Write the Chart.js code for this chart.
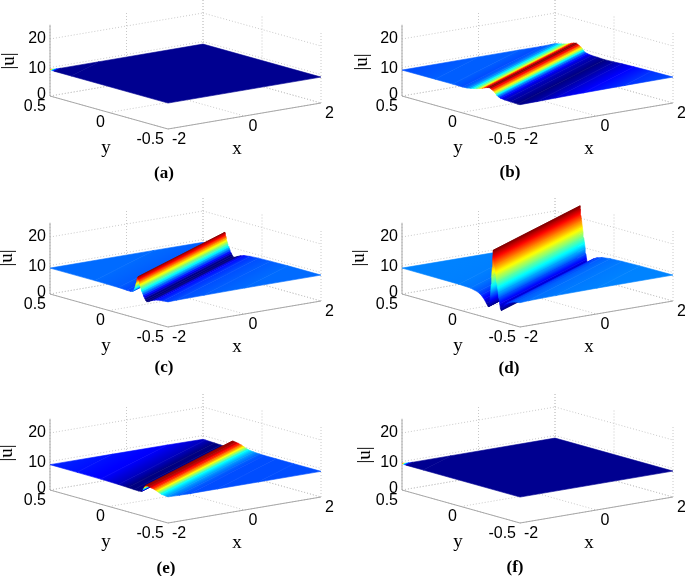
<!DOCTYPE html>
<html>
<head>
<meta charset="utf-8">
<title>|u| surfaces</title>
<script src="https://cdn.jsdelivr.net/npm/chart.js@4"></script>
<style>
  body { margin: 0; background: #fff; }
  canvas { position: absolute; }
</style>
</head>
<body>
<script>
// tick labels
const xTicks = [-2, 0, 2];
const yTicks = [-0.5, 0, 0.5];
const zTicks = [0, 10, 20];

// cross sections: position across the ridge (y - 0.14 x) and |u|
const posA = [-0.78, 0.6, 0.74, 0.755, 0.765, 0.775, 0.78];
const valA = [9.1, 9.1, 9.1, 9.15, 9.2, 9.3, 9.35];

const posB = [-0.78, -0.6, -0.45, -0.35, -0.28, -0.2, -0.14, -0.09, -0.055, -0.035, -0.022, -0.013, -0.003, 0.01, 0.025, 0.04, 0.06, 0.08, 0.1, 0.125, 0.15, 0.175, 0.2, 0.23, 0.27, 0.35, 0.5, 0.78];
const valB = [9.1, 9.02, 8.88, 8.75, 8.62, 8.5, 8.6, 8.7, 8.9, 9.2, 9.6, 10.1, 10.5, 10.85, 11.2, 11.5, 11.3, 11.0, 10.6, 10.2, 9.9, 9.65, 9.4, 9.2, 9.1, 9.15, 9.15, 9.1];

const posC = [-0.78, -0.5, -0.35, -0.25, -0.18, -0.13, -0.1, -0.075, -0.055, -0.04, -0.03, -0.022, -0.016, -0.01, -0.004, 0.002, 0.008, 0.013, 0.018, 0.022, 0.026, 0.03, 0.034, 0.04, 0.045, 0.05, 0.057, 0.065, 0.08, 0.1, 0.13, 0.2, 0.4, 0.78];
const valC = [9.1, 9.1, 9.0, 8.9, 8.7, 8.4, 8.0, 7.5, 7.0, 6.8, 7.2, 7.8, 8.3, 8.8, 9.4, 10, 10.6, 11.2, 12, 12.7, 13.5, 14.2, 14.7, 14.2, 13.3, 12.3, 11, 9.9, 9, 8.8, 8.85, 9, 9.1, 9.1];

const posD = [-0.78, -0.5, -0.35, -0.25, -0.18, -0.14, -0.11, -0.09, -0.075, -0.065, -0.06, -0.054, -0.048, -0.042, -0.036, -0.03, -0.024, -0.018, -0.012, -0.006, 0, 0.004, 0.007, 0.012, 0.016, 0.02, 0.024, 0.03, 0.036, 0.042, 0.05, 0.065, 0.085, 0.11, 0.14, 0.2, 0.3, 0.78];
const valD = [9.1, 9.05, 8.9, 8.7, 8.3, 7.8, 7.1, 6.3, 5.4, 4.4, 3.9, 4.6, 6.2, 8, 9.8, 11.6, 13.4, 15.2, 17, 19, 21, 23, 24.3, 21, 18, 15, 12, 8.5, 5.5, 4.2, 4, 5, 6.3, 7.4, 8.2, 8.8, 9, 9.1];

const posE = [-0.78, -0.55, -0.4, -0.3, -0.26, -0.21, -0.164, -0.145, -0.127, -0.105, -0.08, -0.06, -0.04, -0.03, -0.02, -0.012, -0.004, 0.005, 0.03, 0.07, 0.12, 0.2, 0.35, 0.55, 0.78];
const valE = [9.0, 9.0, 9.0, 9.0, 9.05, 9.2, 9.44, 9.75, 10.06, 10.4, 10.7, 10.85, 10.95, 10.95, 10.2, 9.4, 8.8, 8.45, 8.35, 8.4, 8.5, 8.65, 8.8, 8.85, 8.9];

const posF = [-0.78, 0.6, 0.74, 0.755, 0.765, 0.775, 0.78];
const valF = [9.1, 9.1, 9.1, 9.15, 9.2, 9.3, 9.35];

const panels = [
  { name: '(a)', pos: posA, val: valA, cmin: 9.095, cmax: 9.4, left: 0, top: 0, height: 198, labelX: 164, labelY: 174, uX: 9, uY: 61 },
  { name: '(b)', pos: posB, val: valB, cmin: 8.5, cmax: 11.5, left: 352, top: 0, height: 198, labelX: 158, labelY: 173, uX: 10, uY: 62 },
  { name: '(c)', pos: posC, val: valC, cmin: 7.4, cmax: 14.8, left: 0, top: 198, height: 196, labelX: 164, labelY: 170, uX: 7, uY: 60 },
  { name: '(d)', pos: posD, val: valD, cmin: 3.9, cmax: 24.3, left: 352, top: 198, height: 196, labelX: 157, labelY: 171, uX: 7, uY: 60 },
  { name: '(e)', pos: posE, val: valE, cmin: 8.5, cmax: 11, left: 0, top: 394, height: 182, labelX: 166, labelY: 175, uX: 7, uY: 59 },
  { name: '(f)', pos: posF, val: valF, cmin: 9.095, cmax: 9.4, left: 352, top: 394, height: 182, labelX: 163, labelY: 174, uX: 13, uY: 61 }
];

const slope = 0.14; // ridge runs along y = pos + slope * x

// fixed camera of the 3D box, in scale units
function projX(x, y) {
  return 50 + 38.25 * (x + 2) + 118 * (0.5 - y);
}
function projY(x, y, z) {
  return 96 - 6.5 * (x + 2) + 33 * (0.5 - y) - 2.85 * z;
}
function toPoint(p) {
  return { x: projX(p.x, p.y), y: projY(p.x, p.y, p.z) };
}

function jet(t) {
  t = Math.min(1, Math.max(0, t));
  const r = Math.min(1, Math.max(0, Math.min(4 * t - 1.5, 4.5 - 4 * t)));
  const g = Math.min(1, Math.max(0, Math.min(4 * t - 0.5, 3.5 - 4 * t)));
  const b = Math.min(1, Math.max(0, Math.min(4 * t + 0.5, 2.5 - 4 * t)));
  return 'rgb(' + Math.round(r * 255) + ',' + Math.round(g * 255) + ',' + Math.round(b * 255) + ')';
}

// cut a polygon with one side of the box
function clipSide(poly, key, limit, sign) {
  const out = [];
  for (let i = 0; i < poly.length; i++) {
    const a = poly[i];
    const b = poly[(i + 1) % poly.length];
    const da = sign * (a[key] - limit);
    const db = sign * (b[key] - limit);
    if (da >= 0) out.push(a);
    if (da * db < 0) {
      const f = da / (da - db);
      out.push({ x: a.x + f * (b.x - a.x), y: a.y + f * (b.y - a.y), z: a.z + f * (b.z - a.z) });
    }
  }
  return out;
}

function stripPolygon(p0, z0, p1, z1) {
  let poly = [
    { x: -3, y: p0 - 3 * slope, z: z0 },
    { x: 3, y: p0 + 3 * slope, z: z0 },
    { x: 3, y: p1 + 3 * slope, z: z1 },
    { x: -3, y: p1 - 3 * slope, z: z1 }
  ];
  poly = clipSide(poly, 'x', -2, 1);
  poly = clipSide(poly, 'x', 2, -1);
  poly = clipSide(poly, 'y', -0.5, 1);
  poly = clipSide(poly, 'y', 0.5, -1);
  return poly;
}

// colour runs across the strip like interpolated shading
function stripGradient(ctx, panel, i) {
  const a = toPoint({ x: 0, y: panel.pos[i], z: panel.val[i] });
  const b = toPoint({ x: 0, y: panel.pos[i + 1], z: panel.val[i + 1] });
  const s0 = toPoint({ x: -1, y: -slope, z: 0 });
  const s1 = toPoint({ x: 1, y: slope, z: 0 });
  const nx = s1.y - s0.y;
  const ny = s0.x - s1.x;
  const k = ((b.x - a.x) * nx + (b.y - a.y) * ny) / (nx * nx + ny * ny);
  const grad = ctx.createLinearGradient(a.x, a.y, a.x + k * nx, a.y + k * ny);
  for (let s = 0; s <= 4; s++) {
    const z = panel.val[i] + (panel.val[i + 1] - panel.val[i]) * s / 4;
    grad.addColorStop(s / 4, jet((z - panel.cmin) / (panel.cmax - panel.cmin)));
  }
  return grad;
}

function lineSet(a, b, dashed) {
  return {
    data: [toPoint(a), toPoint(b)],
    borderColor: dashed ? '#c8c8c8' : '#a8a8a8',
    borderWidth: 1,
    borderDash: dashed ? [1, 2] : [],
    pointRadius: 0,
    showLine: true,
    fill: false
  };
}

function boxSets() {
  const sets = [];
  const zTop = 25;
  // back walls and floor
  zTicks.forEach(function (z) {
    sets.push(lineSet({ x: -2, y: 0.5, z: z }, { x: 2, y: 0.5, z: z }, true));
    sets.push(lineSet({ x: 2, y: 0.5, z: z }, { x: 2, y: -0.5, z: z }, true));
  });
  xTicks.forEach(function (x) {
    sets.push(lineSet({ x: x, y: 0.5, z: 0 }, { x: x, y: 0.5, z: zTop }, true));
    sets.push(lineSet({ x: x, y: 0.5, z: 0 }, { x: x, y: -0.5, z: 0 }, true));
  });
  yTicks.forEach(function (y) {
    sets.push(lineSet({ x: 2, y: y, z: 0 }, { x: 2, y: y, z: zTop }, true));
    sets.push(lineSet({ x: -2, y: y, z: 0 }, { x: 2, y: y, z: 0 }, true));
  });
  // solid axes
  sets.push(lineSet({ x: -2, y: 0.5, z: 0 }, { x: -2, y: 0.5, z: zTop }, false));
  sets.push(lineSet({ x: -2, y: 0.5, z: 0 }, { x: -2, y: -0.5, z: 0 }, false));
  sets.push(lineSet({ x: -2, y: -0.5, z: 0 }, { x: 2, y: -0.5, z: 0 }, false));
  return sets;
}

function surfaceSets(panel, ctx) {
  const sets = [];
  // far strips first so the near ones paint over them
  for (let i = panel.pos.length - 2; i >= 0; i--) {
    const poly = stripPolygon(panel.pos[i], panel.val[i], panel.pos[i + 1], panel.val[i + 1]);
    if (poly.length < 3) continue;
    const pts = poly.map(toPoint);
    pts.push(pts[0]);
    const color = stripGradient(ctx, panel, i);
    sets.push({
      data: pts,
      showLine: true,
      fill: 'shape',
      backgroundColor: color,
      borderColor: color,
      borderWidth: 0.6,
      pointRadius: 0
    });
  }
  return sets;
}

const textPlugin = {
  id: 'boxText',
  afterDraw: function (chart) {
    const ctx = chart.ctx;
    const sx = chart.scales.x;
    const sy = chart.scales.y;
    const panel = panels[chart.options.plugins.boxText.index];
    const put = function (text, px, py, font) {
      ctx.font = font;
      ctx.fillText(text, px, py);
    };
    const tickFont = '16px "Liberation Sans", Arial, sans-serif';
    const labelFont = '19px "Liberation Serif", "Times New Roman", serif';
    ctx.save();
    ctx.fillStyle = '#000';
    ctx.textBaseline = 'middle';

    ctx.textAlign = 'right';
    zTicks.forEach(function (z) {
      const shift = z === 0 ? -1 : (z === 10 ? 1 : 0);
      put(String(z), sx.getPixelForValue(projX(-2, 0.5)) - 4, sy.getPixelForValue(projY(-2, 0.5, z)) + shift, tickFont);
    });
    yTicks.forEach(function (y) {
      put(String(y), sx.getPixelForValue(projX(-2, y)) - 4, sy.getPixelForValue(projY(-2, y, 0)) + 10.5, tickFont);
    });

    ctx.textAlign = 'left';
    xTicks.forEach(function (x) {
      put(String(x), sx.getPixelForValue(projX(x, -0.5)) + 4, sy.getPixelForValue(projY(x, -0.5, 0)) + 10.5, tickFont);
    });

    ctx.textAlign = 'center';
    put('x', sx.getPixelForValue(237), sy.getPixelForValue(149), labelFont);
    put('y', sx.getPixelForValue(106), sy.getPixelForValue(148), labelFont);
    put(panel.name, sx.getPixelForValue(panel.labelX), sy.getPixelForValue(panel.labelY), 'bold 17px "Liberation Serif", "Times New Roman", serif');

    ctx.translate(sx.getPixelForValue(panel.uX), sy.getPixelForValue(panel.uY));
    ctx.rotate(-Math.PI / 2);
    put('|u|', 0, 0, labelFont);
    ctx.restore();
  }
};

panels.forEach(function (panel, index) {
  const canvas = document.createElement('canvas');
  const width = panel.left === 0 ? 350 : 333;
  canvas.width = width;
  canvas.height = panel.height;
  canvas.style.left = panel.left + 'px';
  canvas.style.top = panel.top + 'px';
  document.body.appendChild(canvas);

  // first dataset is painted last in Chart.js
  const datasets = boxSets().concat(surfaceSets(panel, canvas.getContext('2d'))).reverse();

  new Chart(canvas, {
    type: 'scatter',
    data: { datasets: datasets },
    plugins: [textPlugin],
    options: {
      responsive: false,
      animation: false,
      layout: { padding: 0 },
      scales: {
        x: { type: 'linear', display: false, min: 0, max: width },
        y: { type: 'linear', display: false, min: 0, max: panel.height, reverse: true }
      },
      plugins: {
        legend: { display: false },
        tooltip: { enabled: false },
        boxText: { index: index }
      }
    }
  });
});
</script>
</body>
</html>
